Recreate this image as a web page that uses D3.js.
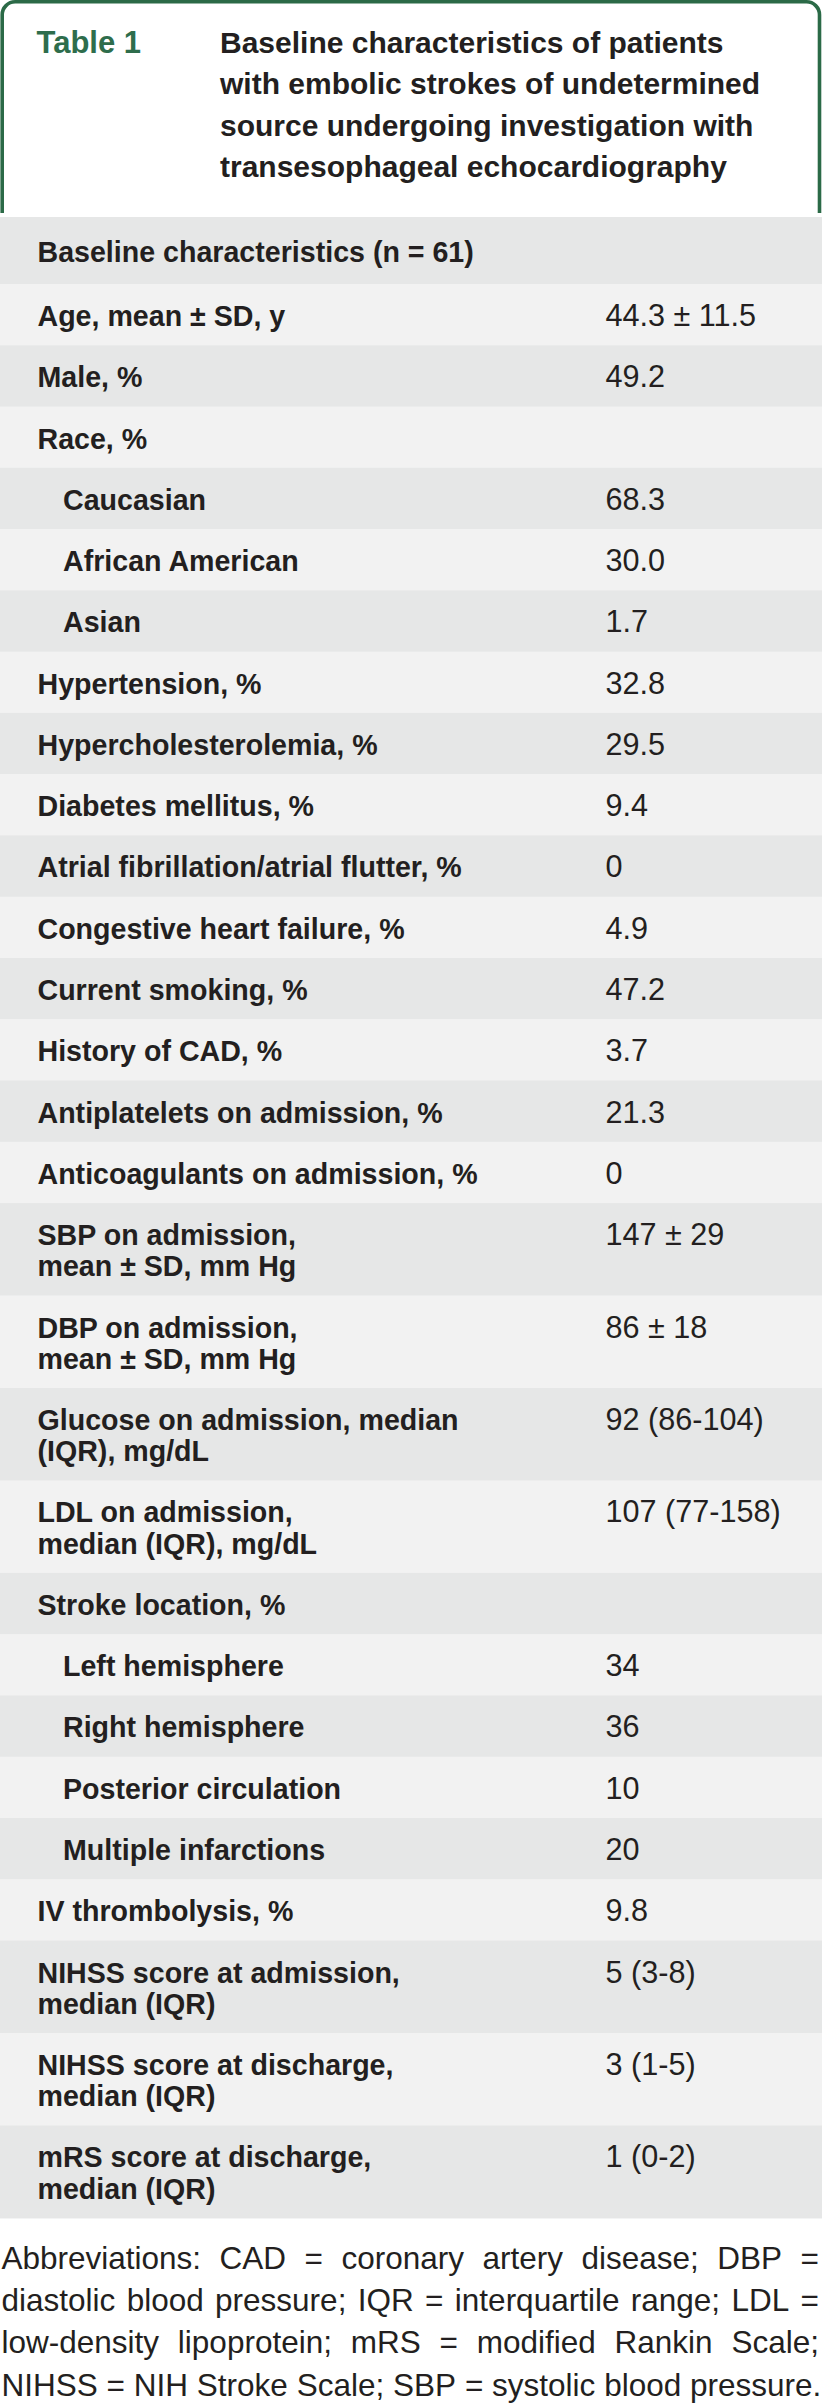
<!DOCTYPE html>
<html lang="en">
<head>
<meta charset="UTF-8">
<title>Table 1</title>
<script src="https://d3js.org/d3.v7.min.js"></script>
<style>
  body { margin: 0; background: #fff; }
  svg text { font-family: "Liberation Sans", Arial, sans-serif; fill: #231f20; }
</style>
</head>
<body>
<div id="chart"></div>
<script>
// table content
var titleLines = [
  "Baseline characteristics of patients",
  "with embolic strokes of undetermined",
  "source undergoing investigation with",
  "transesophageal echocardiography"
];
var headerLabel = "Baseline characteristics (n = 61)";

var labels = [
  "Age, mean \u00b1 SD, y", "Male, %", "Race, %", "Caucasian", "African American", "Asian",
  "Hypertension, %", "Hypercholesterolemia, %", "Diabetes mellitus, %",
  "Atrial fibrillation/atrial flutter, %", "Congestive heart failure, %", "Current smoking, %",
  "History of CAD, %", "Antiplatelets on admission, %", "Anticoagulants on admission, %",
  "SBP on admission,|mean \u00b1 SD, mm Hg", "DBP on admission,|mean \u00b1 SD, mm Hg",
  "Glucose on admission, median|(IQR), mg/dL", "LDL on admission,|median (IQR), mg/dL",
  "Stroke location, %", "Left hemisphere", "Right hemisphere", "Posterior circulation",
  "Multiple infarctions", "IV thrombolysis, %",
  "NIHSS score at admission,|median (IQR)", "NIHSS score at discharge,|median (IQR)",
  "mRS score at discharge,|median (IQR)"
];
var values = [
  "44.3 \u00b1 11.5", "49.2", "", "68.3", "30.0", "1.7",
  "32.8", "29.5", "9.4",
  "0", "4.9", "47.2",
  "3.7", "21.3", "0",
  "147 \u00b1 29", "86 \u00b1 18",
  "92 (86-104)", "107 (77-158)",
  "", "34", "36", "10",
  "20", "9.8",
  "5 (3-8)", "3 (1-5)",
  "1 (0-2)"
];
// sub-items drawn with an indent
var indented = ["Caucasian", "African American", "Asian",
  "Left hemisphere", "Right hemisphere", "Posterior circulation", "Multiple infarctions"];

var footnoteLines = [
  "Abbreviations: CAD = coronary artery disease; DBP =",
  "diastolic blood pressure; IQR = interquartile range; LDL =",
  "low-density lipoprotein; mRS = modified Rankin Scale;",
  "NIHSS = NIH Stroke Scale; SBP = systolic blood pressure."
];

var width = 822, height = 2403;
var green = "#2b6a47", darkRow = "#e6e7e7", lightRow = "#f2f2f2";

var svg = d3.select("#chart").append("svg")
    .attr("width", width)
    .attr("height", height);

// title box, green border open at the bottom
var r = 13, bx0 = 2.2, bx1 = width - 2.5, by0 = 1.8, by1 = 213;
svg.append("path")
    .attr("d", "M" + bx0 + "," + by1 + "L" + bx0 + "," + (by0 + r) +
      "A" + r + "," + r + " 0 0 1 " + (bx0 + r) + "," + by0 +
      "L" + (bx1 - r) + "," + by0 +
      "A" + r + "," + r + " 0 0 1 " + bx1 + "," + (by0 + r) +
      "L" + bx1 + "," + by1)
    .attr("fill", "#fff")
    .attr("stroke", green)
    .attr("stroke-width", 3.6);

svg.append("text")
    .attr("x", 36.5).attr("y", 53)
    .style("font-size", "31px").style("font-weight", "bold")
    .style("fill", "#2e6d4c")
    .text("Table 1");

svg.append("g").selectAll("text")
    .data(titleLines)
    .join("text")
    .attr("x", 220)
    .attr("y", (d, i) => 53 + i * 41.3)
    .style("font-size", "30px").style("font-weight", "bold")
    .text(d => d);

// row layout: first line slot + extra wrapped lines
var rowBase = 61.27, extraLine = 31.2;
var rows = labels.map((l, i) => ({
  lines: l.split("|"),
  value: values[i],
  indent: indented.indexOf(l) >= 0,
  shade: i % 2 === 0 ? lightRow : darkRow
}));
var heights = rows.map(d => rowBase + extraLine * (d.lines.length - 1));
var offsets = [0].concat(Array.from(d3.cumsum(heights)));
var top0 = 284;
var y = d3.scaleLinear().domain([0, offsets[offsets.length - 1]])
    .range([top0, top0 + offsets[offsets.length - 1]]);
var x = d3.scaleOrdinal().domain(["label", "sub", "value"]).range([37.5, 63, 605.5]);

// header row
svg.append("rect")
    .attr("x", 0).attr("y", 217).attr("width", width).attr("height", top0 - 217)
    .attr("fill", darkRow);
svg.append("text")
    .attr("x", x("label")).attr("y", 262)
    .style("font-size", "28.6px").style("font-weight", "bold")
    .text(headerLabel);

var row = svg.append("g").selectAll("g")
    .data(rows)
    .join("g")
    .attr("transform", (d, i) => "translate(0," + y(offsets[i]) + ")");

row.append("rect")
    .attr("x", 0).attr("width", width)
    .attr("height", (d, i) => heights[i] + 0.5)
    .attr("fill", d => d.shade);

row.append("text")
    .attr("x", d => d.indent ? x("sub") : x("label"))
    .attr("y", 42)
    .style("font-size", "28.6px").style("font-weight", "bold")
    .selectAll("tspan")
    .data(d => d.lines.map(t => ({ t: t, indent: d.indent })))
    .join("tspan")
    .attr("x", d => d.indent ? x("sub") : x("label"))
    .attr("dy", (d, i) => i === 0 ? 0 : extraLine)
    .text(d => d.t);

row.append("text")
    .attr("x", x("value"))
    .attr("y", 42)
    .style("font-size", "30.6px")
    .text(d => d.value);

// footnote, justified by hand except last line
var foot = svg.append("g").style("font-size", "31.5px");
var footLeft = 1.5, footRight = 819;
footnoteLines.forEach(function(line, li) {
  var words = line.split(" ");
  var by = 2269 + li * 42.2;
  var ws = foot.selectAll("text.w" + li)
      .data(words)
      .join("text")
      .attr("class", "w" + li)
      .attr("y", by)
      .text(d => d);
  var lens = ws.nodes().map(n => n.getComputedTextLength());
  var total = d3.sum(lens);
  var gap = li < footnoteLines.length - 1 ? (footRight - footLeft - total) / (words.length - 1) : 8.8;
  var pos = footLeft;
  ws.attr("x", function(d, i) {
    var p = pos;
    pos += lens[i] + gap;
    return p;
  });
});
</script>
</body>
</html>
